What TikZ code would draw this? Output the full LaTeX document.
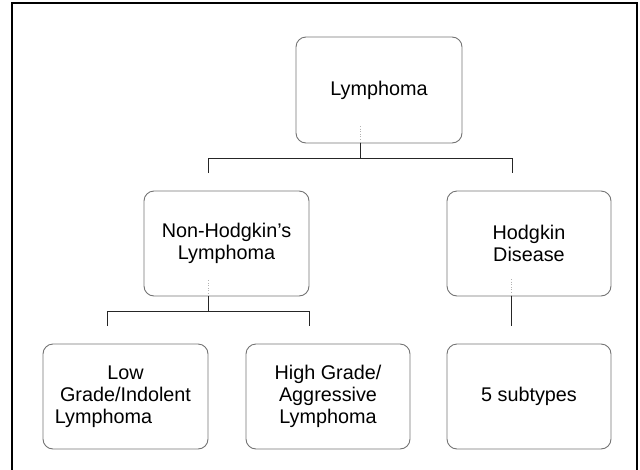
\documentclass[tikz,border=0pt]{standalone}
\usepackage{fontspec}
\setmainfont{Liberation Sans}
\begin{document}
\begin{tikzpicture}[x=1pt,y=-1pt,
  box/.style={draw=black!55, line width=0.9pt, rounded corners=10pt, inner sep=0pt,
    align=center, font=\fontsize{19.8}{22}\selectfont},
  conn/.style={draw=black!85, line width=0.85pt},
  inner/.style={draw=black!30, line width=0.6pt, dotted}]
\useasboundingbox (0,0) rectangle (640,469);
\draw[line width=2.6pt] (12,3) rectangle (637,490);

\node[box, minimum width=166pt, minimum height=106pt] (lym) at (379,90) {Lymphoma};
\node[box, minimum width=165pt, minimum height=105pt] (nhl) at (226.5,243.5) {Non-Hodgkin’s\\Lymphoma};
\node[box, minimum width=164pt, minimum height=105pt] (hd) at (529,243.5) {Hodgkin\\Disease};
\node[box, minimum width=165pt, minimum height=105pt] (low) at (125.5,396.5) {Low\\Grade/Indolent\\Lymphoma\hspace*{44pt}};
\node[box, minimum width=164pt, minimum height=105pt] (high) at (328,396.5) {High Grade/\\Aggressive\\Lymphoma};
\node[box, minimum width=164pt, minimum height=105pt] (sub) at (529,396.5) {5 subtypes};

% Lymphoma connectors
\coordinate (l1) at (360,126);
\coordinate (lb) at (lym.south -| l1);
\coordinate (lbus) at (360,158);
\coordinate (lbl) at (208,158);
\coordinate (lbr) at (512,158);
\coordinate (dl) at (208,173);
\coordinate (dr) at (512,173);
\draw[inner] (l1) -- (lb);
\draw[conn] (lb) -- (lbus);
\draw[conn] (dl) -- (lbl) -- (lbr) -- (dr);

% NHL connectors
\coordinate (n1) at (208,280);
\coordinate (nb) at (nhl.south -| n1);
\coordinate (nbus) at (208,311);
\coordinate (nbl) at (107,311);
\coordinate (nbr) at (309,311);
\coordinate (ndl) at (107,326);
\coordinate (ndr) at (309,326);
\draw[inner] (n1) -- (nb);
\draw[conn] (nb) -- (nbus);
\draw[conn] (ndl) -- (nbl) -- (nbr) -- (ndr);

% HD connector
\coordinate (h1) at (511,279);
\coordinate (hb) at (hd.south -| h1);
\coordinate (hdrop) at (511,326);
\draw[inner] (h1) -- (hb);
\draw[conn] (hb) -- (hdrop);
\end{tikzpicture}
\end{document}
